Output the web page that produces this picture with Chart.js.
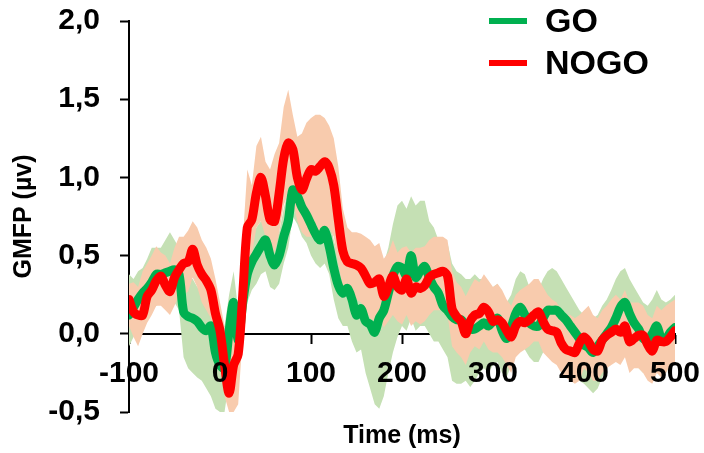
<!DOCTYPE html>
<html><head><meta charset="utf-8">
<script src="https://cdn.jsdelivr.net/npm/chart.js@4.4.0/dist/chart.umd.min.js"></script>
<style>html,body{margin:0;padding:0;background:#fff;}#wrap{width:704px;height:453px;}</style>
</head><body><div id="wrap"><canvas id="c" width="704" height="453"></canvas></div>
<script>
// sampling grid (ms)
const timeMs = Array.from({length:121}, (_, i) => -100 + 5 * i);

const seriesNames = ['GO', 'NOGO'];
const xTickValues = [-100, 0, 100, 200, 300, 400, 500];
const yTickValues = [-0.5, 0, 0.5, 1.0, 1.5, 2.0];

const nogoMean = [
 0.22,0.14,0.12,0.12,0.24,0.28,0.34,0.37,0.31,0.27,
 0.36,0.41,0.45,0.46,0.54,0.44,0.38,0.34,0.28,0.13,
 0.02,-0.20,-0.38,-0.20,-0.13,0.25,0.68,0.73,0.90,1.00,
 0.88,0.73,0.72,0.90,1.12,1.22,1.18,1.00,0.92,0.99,
 1.05,1.04,1.07,1.10,1.06,0.95,0.73,0.53,0.46,0.45,
 0.44,0.42,0.37,0.32,0.33,0.35,0.24,0.30,0.37,0.30,
 0.28,0.35,0.26,0.30,0.29,0.31,0.36,0.38,0.39,0.40,
 0.37,0.16,0.11,0.08,0.00,0.08,0.12,0.13,0.17,0.14,
 0.08,0.09,0.07,0.02,-0.02,0.05,0.08,0.07,0.09,0.12,
 0.14,0.08,0.03,0.02,0.01,-0.06,-0.10,-0.11,-0.12,-0.06,
 -0.02,-0.05,-0.10,-0.11,-0.04,-0.01,0.01,0.03,0.01,0.05,
 -0.05,-0.03,-0.01,-0.01,-0.07,-0.11,-0.04,-0.05,-0.05,-0.02,
 0.02
];
const goMean = [
 0.12,0.17,0.22,0.26,0.29,0.33,0.38,0.38,0.39,0.40,
 0.41,0.38,0.14,0.11,0.10,0.08,0.04,0.02,0.05,-0.12,
 -0.20,-0.22,0.02,0.20,-0.04,0.20,0.38,0.46,0.51,0.56,
 0.60,0.50,0.44,0.50,0.62,0.72,0.92,0.88,0.81,0.76,
 0.70,0.64,0.60,0.66,0.56,0.42,0.31,0.26,0.29,0.22,
 0.12,0.16,0.08,0.06,0.01,0.10,0.15,0.26,0.37,0.43,
 0.42,0.37,0.50,0.36,0.40,0.43,0.36,0.30,0.26,0.18,
 0.15,0.11,0.09,0.09,0.05,0.03,0.03,0.05,0.07,0.05,
 0.08,0.10,0.02,-0.03,0.04,0.13,0.17,0.12,0.07,0.05,
 0.05,0.10,0.15,0.15,0.15,0.12,0.09,0.05,0.01,-0.03,
 -0.07,-0.09,-0.12,-0.08,-0.04,0.00,0.04,0.10,0.17,0.20,
 0.13,0.07,0.03,-0.03,-0.04,0.00,0.05,-0.03,-0.03,0.01,
 0.04
];
const nogoUpper = [
 0.32,0.33,0.30,0.40,0.45,0.50,0.56,0.52,0.50,0.45,
 0.55,0.62,0.62,0.66,0.72,0.68,0.60,0.55,0.48,0.35,
 0.20,0.05,-0.10,0.05,0.12,0.60,1.05,0.95,1.20,1.26,
 1.10,1.05,1.15,1.22,1.45,1.56,1.40,1.26,1.28,1.35,
 1.38,1.40,1.40,1.38,1.33,1.25,1.07,0.80,0.68,0.65,
 0.65,0.64,0.62,0.60,0.56,0.58,0.48,0.52,0.60,0.52,
 0.55,0.56,0.52,0.55,0.55,0.56,0.60,0.62,0.62,0.62,
 0.60,0.40,0.33,0.30,0.24,0.30,0.35,0.33,0.38,0.34,
 0.30,0.32,0.28,0.22,0.18,0.25,0.28,0.30,0.32,0.35,
 0.35,0.30,0.25,0.22,0.20,0.15,0.12,0.12,0.10,0.12,
 0.15,0.18,0.12,0.10,0.15,0.18,0.22,0.25,0.22,0.28,
 0.20,0.20,0.20,0.18,0.12,0.10,0.18,0.15,0.18,0.20,
 0.22
];
const nogoLower = [
 0.05,-0.02,-0.08,0.00,0.07,0.12,0.18,0.18,0.15,0.12,
 0.18,0.25,0.25,0.27,0.36,0.30,0.20,0.15,0.10,-0.05,
 -0.20,-0.40,-0.50,-0.50,-0.45,0.00,0.40,0.50,0.68,0.72,
 0.62,0.50,0.52,0.65,0.82,0.90,0.85,0.72,0.65,0.62,
 0.62,0.62,0.62,0.65,0.68,0.62,0.45,0.30,0.25,0.25,
 0.22,0.20,0.15,0.10,0.08,0.12,0.04,0.08,0.12,0.08,
 0.06,0.12,0.05,0.08,0.06,0.08,0.12,0.15,0.15,0.15,
 0.12,-0.08,-0.12,-0.15,-0.20,-0.12,-0.08,-0.10,-0.05,-0.10,
 -0.12,-0.12,-0.15,-0.20,-0.25,-0.15,-0.12,-0.10,-0.08,-0.05,
 -0.05,-0.12,-0.15,-0.18,-0.20,-0.25,-0.28,-0.30,-0.32,-0.30,
 -0.22,-0.25,-0.30,-0.30,-0.25,-0.22,-0.20,-0.18,-0.20,-0.15,
 -0.25,-0.22,-0.22,-0.25,-0.30,-0.32,-0.25,-0.28,-0.25,-0.20,
 -0.18
];
const goUpper = [
 0.38,0.35,0.40,0.42,0.48,0.55,0.55,0.55,0.60,0.65,
 0.60,0.55,0.35,0.35,0.35,0.30,0.28,0.25,0.28,0.10,
 0.05,0.05,0.25,0.40,0.15,0.40,0.55,0.62,0.68,0.72,
 0.75,0.62,0.60,0.65,0.80,0.92,1.10,1.05,1.00,0.95,
 0.88,0.82,0.80,0.85,0.75,0.60,0.50,0.45,0.48,0.40,
 0.32,0.38,0.30,0.28,0.25,0.35,0.45,0.55,0.70,0.82,
 0.85,0.80,0.88,0.82,0.85,0.85,0.72,0.68,0.60,0.55,
 0.58,0.45,0.40,0.38,0.35,0.35,0.38,0.35,0.35,0.30,
 0.30,0.32,0.25,0.20,0.25,0.35,0.40,0.38,0.30,0.28,
 0.28,0.35,0.40,0.42,0.40,0.35,0.30,0.25,0.20,0.15,
 0.12,0.10,0.10,0.12,0.18,0.22,0.28,0.35,0.40,0.42,
 0.35,0.30,0.25,0.20,0.18,0.22,0.28,0.22,0.20,0.22,
 0.25
];
const goLower = [
 -0.08,-0.02,0.05,0.08,0.10,0.15,0.18,0.20,0.20,0.20,
 0.20,0.15,-0.15,-0.22,-0.25,-0.28,-0.30,-0.35,-0.40,-0.48,
 -0.50,-0.50,-0.30,-0.05,-0.30,0.00,0.20,0.28,0.32,0.38,
 0.40,0.30,0.28,0.32,0.45,0.55,0.75,0.70,0.62,0.58,
 0.50,0.45,0.42,0.45,0.38,0.22,0.10,0.05,0.05,-0.05,
 -0.12,-0.10,-0.25,-0.35,-0.45,-0.48,-0.40,-0.25,-0.12,-0.02,
 0.05,0.02,0.10,0.02,0.05,0.05,0.00,-0.05,-0.05,-0.10,
 -0.15,-0.30,-0.32,-0.32,-0.30,-0.34,-0.30,-0.25,-0.22,-0.25,
 -0.20,-0.18,-0.25,-0.28,-0.20,-0.12,-0.08,-0.10,-0.15,-0.18,
 -0.18,-0.12,-0.08,-0.08,-0.10,-0.15,-0.20,-0.22,-0.25,-0.30,
 -0.32,-0.35,-0.38,-0.35,-0.28,-0.22,-0.18,-0.12,-0.08,-0.05,
 -0.12,-0.18,-0.22,-0.25,-0.25,-0.22,-0.18,-0.25,-0.25,-0.20,
 -0.18
];

const GREEN = '#00b050', RED = '#ff0000', GREEN_BAND = '#c5e0b4', PEACH_BAND = '#f8cbad';
const FAMILY = '"Liberation Sans", Arial, sans-serif';
const pts = arr => arr.map((v, i) => ({x: timeMs[i], y: v}));

const legendPlugin = {
  id: 'manualLegend',
  afterDraw(chart) {
    const ctx = chart.ctx;
    ctx.save();
    const items = [{label: seriesNames[0], color: GREEN, y: 21}, {label: seriesNames[1], color: RED, y: 63}];
    ctx.font = 'bold 34px ' + FAMILY;
    ctx.textBaseline = 'middle';
    ctx.textAlign = 'left';
    items.forEach(it => {
      ctx.fillStyle = it.color;
      ctx.fillRect(489, it.y - 3, 38, 6);
      ctx.fillStyle = '#000';
      ctx.fillText(it.label, 545, it.y + 2);
    });
    ctx.restore();
  }
};

const tickFont = {family: FAMILY, size: 30, weight: 'bold'};
const titleFont = {family: FAMILY, size: 25, weight: 'bold'};
const lineDs = (label, arr, color) => ({label, data: pts(arr), borderColor: color, borderWidth: 9, pointRadius: 0, tension: 0.3, fill: false, xAxisID: 'x', yAxisID: 'y', borderJoinStyle: 'round', borderCapStyle: 'round'});
const edgeDs = (label, arr, bg, fill) => ({label, data: pts(arr), borderWidth: 0, pointRadius: 0, tension: 0, backgroundColor: bg, fill, xAxisID: 'x', yAxisID: 'y'});

new Chart(document.getElementById('c'), {
  type: 'line',
  data: {
    datasets: [
      lineDs(seriesNames[1], nogoMean, RED),
      lineDs(seriesNames[0], goMean, GREEN),
      edgeDs('NOGO upper', nogoUpper, PEACH_BAND, '+1'),
      edgeDs('NOGO lower', nogoLower, 'transparent', false),
      edgeDs('GO upper', goUpper, GREEN_BAND, '+1'),
      edgeDs('GO lower', goLower, 'transparent', false)
    ]
  },
  options: {
    responsive: false,
    animation: false,
    layout: {padding: {top: 21, right: 29, left: 0, bottom: 0}},
    plugins: {legend: {display: false}, tooltip: {enabled: false}},
    scales: {
      x: {
        type: 'linear', min: -100, max: 500, position: {y: 0},
        afterBuildTicks: s => { s.ticks = xTickValues.map(v => ({value: v})); },
        ticks: {z: 1, font: tickFont, color: '#000', padding: 13, maxRotation: 0, autoSkip: false, callback: v => String(v)},
        grid: {z: -1, drawOnChartArea: false, drawTicks: true, tickLength: 9, tickWidth: 2, tickColor: '#000'},
        border: {z: 0, display: true, color: '#000', width: 2},
        afterFit: s => { s.paddingLeft = 0; s.paddingRight = 0; }
      },
      x2: {
        type: 'linear', axis: 'x', position: 'bottom', min: -100, max: 500,
        ticks: {display: false}, grid: {display: false}, border: {display: false},
        title: {display: true, text: 'Time (ms)', font: titleFont, color: '#000', padding: {top: 0, bottom: 2}},
        afterFit: s => { s.height = 41; s.paddingLeft = 0; s.paddingRight = 0; }
      },
      y: {
        type: 'linear', min: -0.5, max: 2.0, position: 'left',
        afterBuildTicks: s => { s.ticks = yTickValues.map(v => ({value: v})); },
        ticks: {font: tickFont, color: '#000', padding: 20, callback: v => (Math.round(v * 10) / 10).toFixed(1).replace('.', ',')},
        grid: {drawOnChartArea: false, drawTicks: true, tickLength: 9, tickWidth: 2, tickColor: '#000'},
        border: {display: true, color: '#000', width: 2},
        title: {display: true, text: 'GMFP (µv)', font: titleFont, color: '#000', padding: {top: 9, bottom: 0}},
        afterFit: s => { s.width = 129; s.paddingTop = 0; s.paddingBottom = 0; }
      }
    }
  },
  plugins: [legendPlugin]
});
</script></body></html>
